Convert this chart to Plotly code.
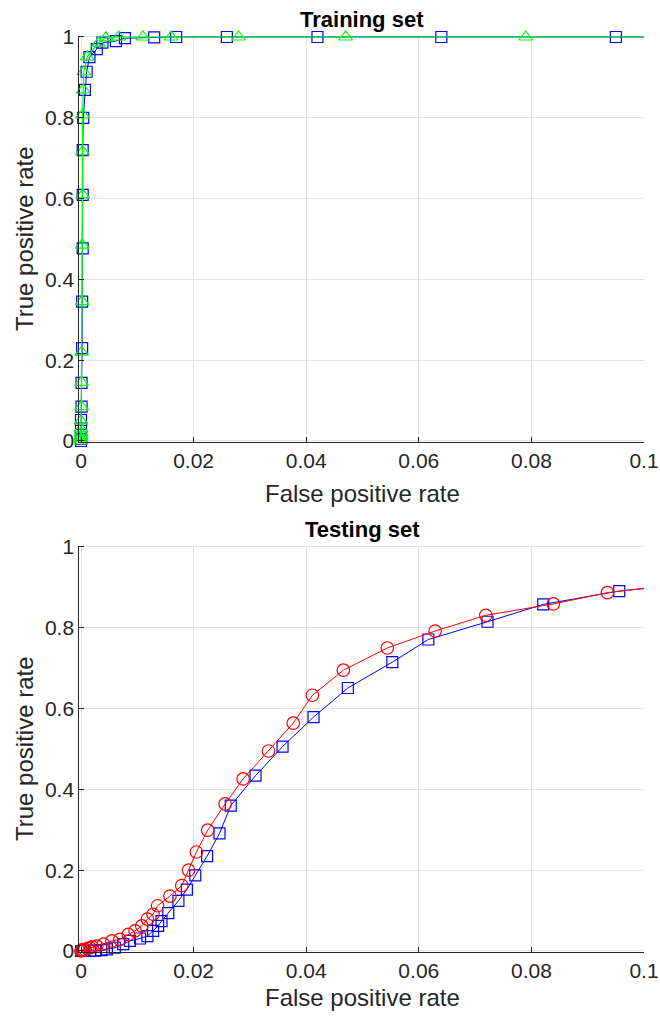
import plotly.graph_objects as go

# ---- Training set data ----
train_blue_fpr = [0, 0, 0, 0, 0, 0.0001, 0.0001, 0.0002, 0.0002, 0.0003, 0.0003, 0.0003,
                  0.0004, 0.0007, 0.0010, 0.0015, 0.0028, 0.0038, 0.0062, 0.0078, 0.013,
                  0.0169, 0.0259, 0.042, 0.064, 0.095, 0.13]
train_blue_tpr = [0, 0.005, 0.015, 0.031, 0.052, 0.085, 0.144, 0.23, 0.345, 0.477, 0.609, 0.72,
                  0.80, 0.869, 0.914, 0.95, 0.97, 0.986, 0.99, 0.997, 0.999,
                  1.0, 1.0, 1.0, 1.0, 1.0, 1.0]

train_green_fpr = [0, 0, 0, 0, 0, 0, 0.0001, 0.0001, 0.0001, 0.0002, 0.0002, 0.0003,
                   0.0003, 0.0003, 0.0004, 0.0005, 0.0011, 0.0031, 0.0044, 0.0067, 0.011,
                   0.016, 0.028, 0.047, 0.079, 0.13]
train_green_tpr = [0, 0.005, 0.012, 0.02, 0.03, 0.05, 0.085, 0.145, 0.22, 0.345, 0.485, 0.609,
                   0.716, 0.807, 0.869, 0.914, 0.951, 0.985, 0.998, 1.0, 1.0,
                   1.0, 1.0, 1.0, 1.0, 1.0]

# ---- Testing set data ----
test_red_fpr = [0, 0.0001, 0.0003, 0.0007, 0.0012, 0.0016, 0.0020, 0.0028, 0.0040, 0.0055,
                0.0069, 0.0084, 0.0096, 0.0108, 0.0118, 0.0128, 0.0136, 0.0158, 0.0179,
                0.0191, 0.0205, 0.0225, 0.0256, 0.0288, 0.0333, 0.0377, 0.0411, 0.0466,
                0.0544, 0.0629, 0.0719, 0.0839, 0.0935, 0.105]
test_red_tpr = [0, 0.002, 0.003, 0.004, 0.006, 0.008, 0.010, 0.012, 0.017, 0.025,
                0.029, 0.041, 0.050, 0.062, 0.079, 0.091, 0.112, 0.136, 0.162,
                0.200, 0.245, 0.299, 0.364, 0.426, 0.495, 0.564, 0.633, 0.695,
                0.750, 0.792, 0.831, 0.859, 0.887, 0.906]

test_blue_fpr = [0, 0.0004, 0.0016, 0.0025, 0.0036, 0.0046, 0.0060, 0.0075, 0.0087, 0.0105,
                 0.0118, 0.0128, 0.0137, 0.0143, 0.0155, 0.0173, 0.0188, 0.0203, 0.0224,
                 0.0246, 0.0266, 0.0310, 0.0358, 0.0413, 0.0474, 0.0553, 0.0617, 0.0722,
                 0.0821, 0.0956, 0.105]
test_blue_tpr = [0, 0, 0.0005, 0.001, 0.002, 0.004, 0.008, 0.017, 0.025, 0.031,
                 0.037, 0.050, 0.062, 0.074, 0.094, 0.124, 0.152, 0.187, 0.235,
                 0.291, 0.360, 0.434, 0.506, 0.579, 0.651, 0.715, 0.771, 0.815,
                 0.858, 0.891, 0.904]

x_ticks = [0, 0.02, 0.04, 0.06, 0.08, 0.1]
y_ticks = [0, 0.2, 0.4, 0.6, 0.8, 1]

BLUE = "rgb(0,0,255)"
GREEN = "rgb(0,255,0)"
RED = "rgb(255,0,0)"
TXT = "#262626"
FONT = "Liberation Sans, Arial, sans-serif"

W, H = 660, 1017

fig = go.Figure()

fig.add_trace(go.Scatter(x=train_blue_fpr, y=train_blue_tpr, mode="lines+markers",
                         line=dict(color=BLUE, width=1), cliponaxis=False,
                         marker=dict(symbol="square-open", size=11, color=BLUE, line=dict(width=1.2)),
                         xaxis="x", yaxis="y", showlegend=False))
fig.add_trace(go.Scatter(x=train_green_fpr, y=train_green_tpr, mode="lines+markers",
                         line=dict(color=GREEN, width=1.2), cliponaxis=False,
                         marker=dict(symbol="triangle-up-open", size=12, color=GREEN, line=dict(width=1.2)),
                         xaxis="x", yaxis="y", showlegend=False))
fig.add_trace(go.Scatter(x=test_blue_fpr, y=test_blue_tpr, mode="lines+markers",
                         line=dict(color=BLUE, width=1), cliponaxis=False,
                         marker=dict(symbol="square-open", size=11, color=BLUE, line=dict(width=1.2)),
                         xaxis="x2", yaxis="y2", showlegend=False))
fig.add_trace(go.Scatter(x=test_red_fpr, y=test_red_tpr, mode="lines+markers",
                         line=dict(color=RED, width=1), cliponaxis=False,
                         marker=dict(symbol="circle-open", size=12.5, color=RED, line=dict(width=1.2)),
                         xaxis="x2", yaxis="y2", showlegend=False))

def px_x(p):
    return p / W

def px_y(p):
    return 1 - p / H

# axis pixel geometry (value 0 / max -> pixel), with a small pad so edge lines are not clipped
X0, X1 = 81, 644          # x = 0 and x = 0.1
XPAD = 0.0003             # data units added left of 0
XPPU = (X1 - X0) / 0.1
YPAD = 0.003              # data units added above 1 and below 0
YPPU = 404

def ydomain(top_px, bot_px):
    return [px_y(bot_px + YPAD * YPPU), px_y(top_px - YPAD * YPPU)]

xd = [px_x(X0 - XPAD * XPPU), px_x(X1)]
yd_top = ydomain(37, 441)
yd_bot = ydomain(547, 951)

axis_common = dict(showgrid=True, gridcolor="#e3e3e3", gridwidth=1,
                   showline=True, linecolor=TXT, linewidth=1,
                   ticks="inside", ticklen=5, tickcolor=TXT,
                   tickfont=dict(family=FONT, size=21, color=TXT),
                   zeroline=False, mirror=False, automargin=False)

xr = [-XPAD, 0.1]
yr = [-YPAD, 1 + YPAD]

fig.update_layout(
    template="none",
    width=W, height=H,
    margin=dict(l=0, r=0, t=0, b=0, pad=0),
    paper_bgcolor="white", plot_bgcolor="white",
    xaxis=dict(domain=xd, range=xr, tickvals=x_ticks, anchor="y", **axis_common),
    yaxis=dict(domain=yd_top, range=yr, tickvals=y_ticks, anchor="x", **axis_common),
    xaxis2=dict(domain=xd, range=xr, tickvals=x_ticks, anchor="y2", **axis_common),
    yaxis2=dict(domain=yd_bot, range=yr, tickvals=y_ticks, anchor="x2", **axis_common),
)

ann = []
def txt(x, y, s, size, bold=False, angle=0):
    ann.append(dict(x=px_x(x), y=px_y(y), xref="paper", yref="paper",
                    text=("<b>%s</b>" % s) if bold else s,
                    showarrow=False, textangle=angle, xanchor="center", yanchor="middle",
                    font=dict(family=FONT, size=size, color="black" if bold else TXT)))

txt(362, 20, "Training set", 22, bold=True)
txt(362, 529, "Testing set", 22, bold=True)
txt(362, 493, "False positive rate", 24)
txt(362, 997, "False positive rate", 24)
txt(24, 239, "True positive rate", 24, angle=-90)
txt(24, 749, "True positive rate", 24, angle=-90)
fig.update_layout(annotations=ann)

fig.write_html("out.html", config={"displayModeBar": False},
               post_script="document.body.style.margin='0';document.body.style.overflow='hidden';")
